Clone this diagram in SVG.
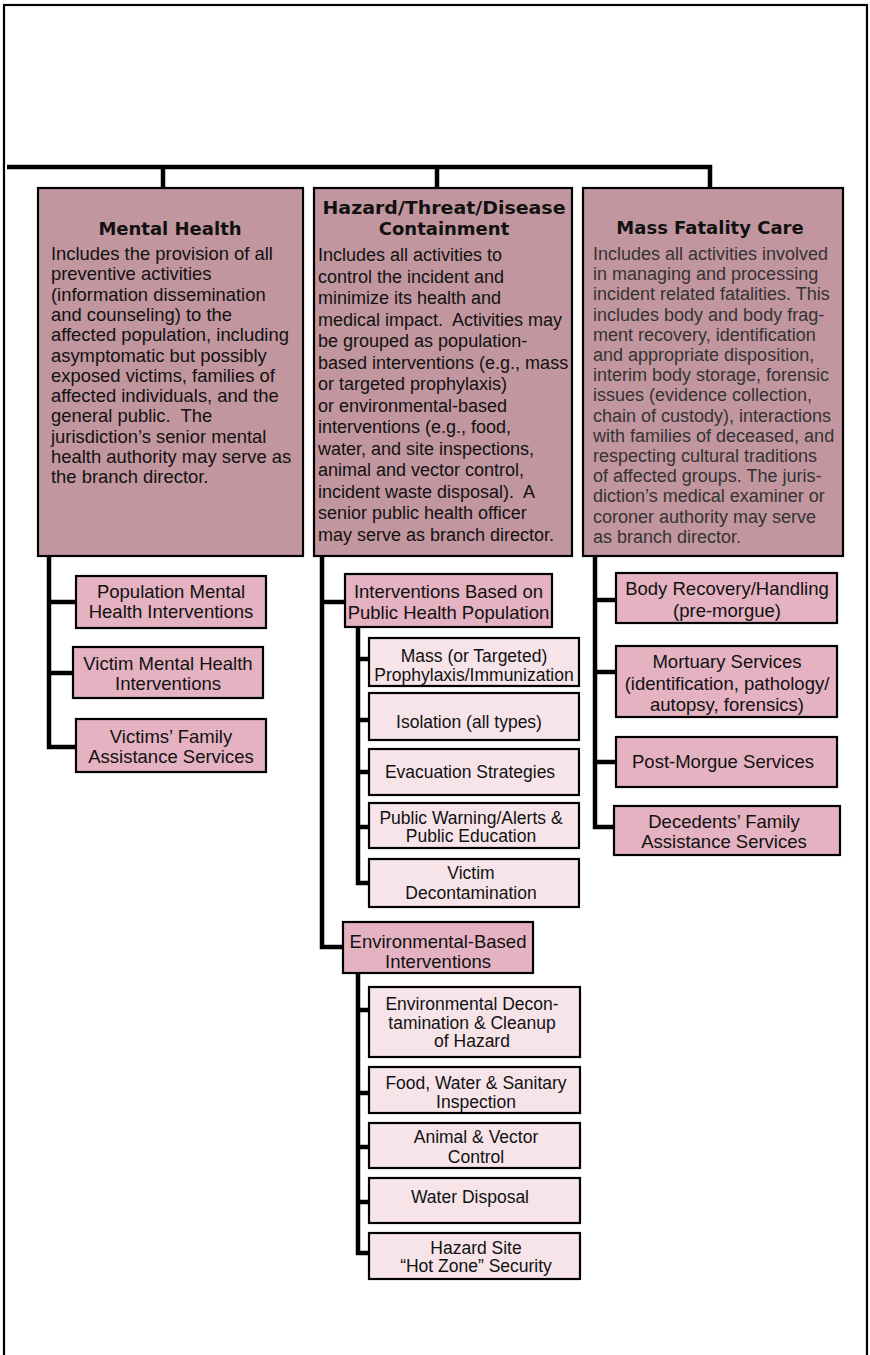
<svg xmlns="http://www.w3.org/2000/svg" width="870" height="1355" viewBox="0 0 870 1355">
<style>
.frame{fill:none;stroke:#000;stroke-width:2.2}
.con{fill:none;stroke:#000;stroke-width:4.5;stroke-linejoin:miter}
.big{fill:#c2969f;stroke:#000;stroke-width:2.2}
.sub{fill:#e4b2c1;stroke:#000;stroke-width:2.2}
.leaf{fill:#f6e4e9;stroke:#000;stroke-width:2.2}
.ttl{font-family:"DejaVu Sans",sans-serif;font-weight:bold;font-size:18px;fill:#111;text-anchor:middle}
.body{font-family:"Liberation Sans",Arial,sans-serif;font-size:18px;fill:#111}
.mh{font-size:18.4px}
.gray{fill:#333}
.st{font-family:"Liberation Sans",Arial,sans-serif;font-size:18.5px;fill:#111;text-anchor:middle}
.lt{font-family:"Liberation Sans",Arial,sans-serif;font-size:17.5px;fill:#111;text-anchor:middle}
</style>
<rect width="870" height="1355" fill="#fff"/>
<rect class="frame" x="4" y="5" width="863" height="1370"/>
<g id="connectors">
<path class="con" d="M7 167 H710 V188 M163 167 V188 M437 167 V188"/>
<path class="con" d="M49 556 V747 H76 M49 602 H76 M49 673 H73"/>
<path class="con" d="M322 556 V947 H343 M322 602 H345"/>
<path class="con" d="M358 627 V883 H369 M358 659 H369 M358 720 H369 M358 772 H369 M358 827 H369"/>
<path class="con" d="M358 973 V1253 H369 M358 1010 H369 M358 1093 H369 M358 1147 H369 M358 1202 H369"/>
<path class="con" d="M595 556 V827 H614 M595 600 H616 M595 672 H616 M595 762 H616"/>
</g>
<g id="mental-health">
<rect class="big" x="38" y="188" width="265" height="368"/>
<text class="ttl" x="170" y="234.5">Mental Health</text>
<text class="body mh">
<tspan x="51" y="260">Includes the provision of all</tspan>
<tspan x="51" y="280.3">preventive activities</tspan>
<tspan x="51" y="300.6">(information dissemination</tspan>
<tspan x="51" y="320.9">and counseling) to the</tspan>
<tspan x="51" y="341.2">affected population, including</tspan>
<tspan x="51" y="361.5">asymptomatic but possibly</tspan>
<tspan x="51" y="381.8">exposed victims, families of</tspan>
<tspan x="51" y="402.1">affected individuals, and the</tspan>
<tspan x="51" y="422.4">general public.&#160; The</tspan>
<tspan x="51" y="442.7">jurisdiction’s senior mental</tspan>
<tspan x="51" y="463">health authority may serve as</tspan>
<tspan x="51" y="483.3">the branch director.</tspan>
</text>
</g>
<g id="hazard">
<rect class="big" x="314" y="188" width="258" height="368"/>
<text class="ttl" x="444" y="213.5" textLength="243" lengthAdjust="spacingAndGlyphs">Hazard/Threat/Disease</text>
<text class="ttl" x="444" y="235">Containment</text>
<text class="body">
<tspan x="318" y="261">Includes all activities to</tspan>
<tspan x="318" y="282.5">control the incident and</tspan>
<tspan x="318" y="304">minimize its health and</tspan>
<tspan x="318" y="325.5">medical impact.&#160; Activities may</tspan>
<tspan x="318" y="347">be grouped as population-</tspan>
<tspan x="318" y="368.5">based interventions (e.g., mass</tspan>
<tspan x="318" y="390">or targeted prophylaxis)</tspan>
<tspan x="318" y="411.5">or environmental-based</tspan>
<tspan x="318" y="433">interventions (e.g., food,</tspan>
<tspan x="318" y="454.5">water, and site inspections,</tspan>
<tspan x="318" y="476">animal and vector control,</tspan>
<tspan x="318" y="497.5">incident waste disposal).&#160; A</tspan>
<tspan x="318" y="519">senior public health officer</tspan>
<tspan x="318" y="540.5">may serve as branch director.</tspan>
</text>
</g>
<g id="mass-fatality">
<rect class="big" x="583" y="188" width="260" height="368"/>
<text class="ttl" x="710" y="233.5">Mass Fatality Care</text>
<text class="body gray">
<tspan x="593" y="260">Includes all activities involved</tspan>
<tspan x="593" y="280.2">in managing and processing</tspan>
<tspan x="593" y="300.4">incident related fatalities. This</tspan>
<tspan x="593" y="320.6">includes body and body frag-</tspan>
<tspan x="593" y="340.8">ment recovery, identification</tspan>
<tspan x="593" y="361">and appropriate disposition,</tspan>
<tspan x="593" y="381.2">interim body storage, forensic</tspan>
<tspan x="593" y="401.4">issues (evidence collection,</tspan>
<tspan x="593" y="421.6">chain of custody), interactions</tspan>
<tspan x="593" y="441.8">with families of deceased, and</tspan>
<tspan x="593" y="462">respecting cultural traditions</tspan>
<tspan x="593" y="482.2">of affected groups. The juris-</tspan>
<tspan x="593" y="502.4">diction’s medical examiner or</tspan>
<tspan x="593" y="522.6">coroner authority may serve</tspan>
<tspan x="593" y="542.8">as branch director.</tspan>
</text>
</g>
<g id="pop-mental-health">
<rect class="sub" x="76" y="576" width="190" height="52"/>
<text class="st"><tspan x="171" y="598">Population Mental</tspan><tspan x="171" y="618">Health Interventions</tspan></text>
</g>
<g id="victim-mental-health">
<rect class="sub" x="73" y="647" width="190" height="51"/>
<text class="st"><tspan x="168" y="669.5">Victim Mental Health</tspan><tspan x="168" y="690">Interventions</tspan></text>
</g>
<g id="victims-family">
<rect class="sub" x="76" y="719" width="190" height="53"/>
<text class="st"><tspan x="171" y="742.5">Victims’ Family</tspan><tspan x="171" y="762.5">Assistance Services</tspan></text>
</g>
<g id="interventions-population">
<rect class="sub" x="345" y="574" width="207" height="53"/>
<text class="st"><tspan x="448.5" y="597.5">Interventions Based on</tspan><tspan x="448.5" y="619">Public Health Population</tspan></text>
</g>
<g id="mass-prophylaxis">
<rect class="leaf" x="369" y="638" width="210" height="48"/>
<text class="lt"><tspan x="474" y="662">Mass (or Targeted)</tspan><tspan x="474" y="680.5">Prophylaxis/Immunization</tspan></text>
</g>
<g id="isolation">
<rect class="leaf" x="369" y="693" width="210" height="47"/>
<text class="lt" x="469" y="728">Isolation (all types)</text>
</g>
<g id="evacuation">
<rect class="leaf" x="369" y="749" width="210" height="46"/>
<text class="lt" x="470" y="778">Evacuation Strategies</text>
</g>
<g id="public-warning">
<rect class="leaf" x="369" y="803" width="210" height="45"/>
<text class="lt"><tspan x="471" y="824">Public Warning/Alerts &amp;</tspan><tspan x="471" y="842">Public Education</tspan></text>
</g>
<g id="victim-decon">
<rect class="leaf" x="369" y="859" width="210" height="48"/>
<text class="lt"><tspan x="471" y="879">Victim</tspan><tspan x="471" y="899">Decontamination</tspan></text>
</g>
<g id="environmental-based">
<rect class="sub" x="343" y="922" width="190" height="51"/>
<text class="st"><tspan x="438" y="947.5">Environmental-Based</tspan><tspan x="438" y="967.5">Interventions</tspan></text>
</g>
<g id="env-decon">
<rect class="leaf" x="369" y="987" width="211" height="70"/>
<text class="lt"><tspan x="472" y="1010">Environmental Decon-</tspan><tspan x="472" y="1028.5">tamination &amp; Cleanup</tspan><tspan x="472" y="1047">of Hazard</tspan></text>
</g>
<g id="food-water">
<rect class="leaf" x="369" y="1067" width="211" height="46"/>
<text class="lt"><tspan x="476" y="1089">Food, Water &amp; Sanitary</tspan><tspan x="476" y="1108">Inspection</tspan></text>
</g>
<g id="animal-vector">
<rect class="leaf" x="369" y="1123" width="211" height="45"/>
<text class="lt"><tspan x="476" y="1142.5">Animal &amp; Vector</tspan><tspan x="476" y="1162.5">Control</tspan></text>
</g>
<g id="water-disposal">
<rect class="leaf" x="369" y="1178" width="211" height="45"/>
<text class="lt" x="470" y="1203">Water Disposal</text>
</g>
<g id="hot-zone">
<rect class="leaf" x="369" y="1233" width="211" height="46"/>
<text class="lt"><tspan x="476" y="1254">Hazard Site</tspan><tspan x="476" y="1272">“Hot Zone” Security</tspan></text>
</g>
<g id="body-recovery">
<rect class="sub" x="616" y="573" width="221" height="50"/>
<text class="st"><tspan x="727" y="595">Body Recovery/Handling</tspan><tspan x="727" y="617">(pre-morgue)</tspan></text>
</g>
<g id="mortuary">
<rect class="sub" x="616" y="646" width="221" height="71"/>
<text class="st"><tspan x="727" y="667.5">Mortuary Services</tspan><tspan x="727" y="689.5">(identification, pathology/</tspan><tspan x="727" y="711">autopsy, forensics)</tspan></text>
</g>
<g id="post-morgue">
<rect class="sub" x="616" y="737" width="221" height="50"/>
<text class="st" x="723" y="767.5">Post-Morgue Services</text>
</g>
<g id="decedents-family">
<rect class="sub" x="614" y="806" width="226" height="49"/>
<text class="st"><tspan x="724" y="827.5">Decedents’ Family</tspan><tspan x="724" y="847.5">Assistance Services</tspan></text>
</g>
</svg>
